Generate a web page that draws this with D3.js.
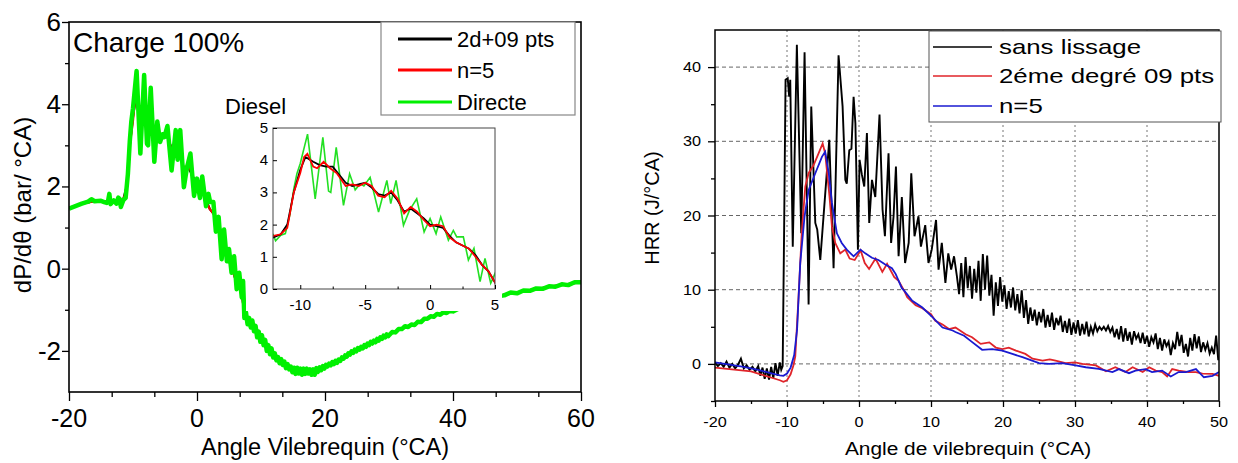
<!DOCTYPE html>
<html><head><meta charset="utf-8">
<script src="https://cdn.jsdelivr.net/npm/d3@7"></script>
<style>
body{margin:0;background:#fff}
svg text{font-family:"Liberation Sans",Arial,sans-serif;fill:#000}
</style>
</head><body>
<svg id="c" width="1238" height="463"></svg>
<script>
// ---------------- LEFT CHART DATA (dP/dθ, bar/°CA) ----------------
const leftDirecte = [[-20,1.46],[-19,1.52],[-18,1.58],[-17,1.63],[-16.5,1.69],[-16,1.64],[-15,1.65],[-14.5,1.62],[-14.1,1.6],[-13.9,1.64],[-13.7,1.82],[-13.5,1.57],[-13,1.66],[-12.6,1.58],[-12.3,1.73],
[-12.1,1.70],[-11.9,1.5],[-11.5,1.67],[-11.15,1.72],[-10.8,2.3],[-10.5,3.1],[-10.26,3.58],[-10.0,3.9],[-9.44,4.81],[-8.85,2.8],[-8.26,4.71],[-7.82,3.04],[-7.65,3.0],[-7.23,4.4],[-6.67,2.6],[-6.2,3.58],[-5.77,3.08],[-5.38,3.27],[-5.1,3.2],[-4.62,3.47],[-3.97,2.39],[-3.33,3.37],[-3.03,2.65],[-2.62,3.37],[-2.05,1.98],[-1.59,2.44],[-1.03,2.8],[-0.46,1.77],[0,2.19],[0.46,1.72],[0.82,2.24],[1.41,1.52],[1.79,1.82],[2.05,1.62],[2.56,1.62],[2.95,0.9],[3.38,1.26],[3.85,0.23],[4.23,0.95],[4.67,0.18],[5.0,0.48],
[5.4,-0.1],[5.8,0.3],[6.2,-0.5],[6.6,-0.1],[7.0,-0.7],[7.2,-0.3],[7.4,-1.2],
[7.65,-1.06],[7.9,-1.35],[8.15,-1.2],[8.4,-1.43],[8.65,-1.26],[8.9,-1.52],[9.15,-1.39],[9.4,-1.67],[9.65,-1.53],[9.9,-1.78],[10.15,-1.62],[10.4,-1.86],[10.65,-1.73],[10.9,-2.0],[11.15,-1.86],[11.4,-2.08],[11.65,-1.94],[11.9,-2.16],[12.15,-2.06],[12.4,-2.23],[12.65,-2.15],[12.9,-2.3],[13.15,-2.2],[13.4,-2.34],[13.65,-2.26],[13.9,-2.42],[14.15,-2.32],[14.4,-2.45],[14.65,-2.38],[14.9,-2.52],[15.15,-2.41],[15.4,-2.56],[15.65,-2.41],[15.9,-2.55],[16.15,-2.43],[16.4,-2.58],[16.65,-2.43],[16.9,-2.56],[17.15,-2.43],[17.4,-2.55],[17.65,-2.45],[17.9,-2.58],[18.15,-2.45],[18.4,-2.58],[18.65,-2.42],[18.9,-2.51],[19.15,-2.4],[19.4,-2.47],[19.65,-2.37],[19.9,-2.43],[20.15,-2.34],[20.4,-2.38],[20.65,-2.31],[20.9,-2.35],[21.15,-2.27],[21.4,-2.32],[21.65,-2.24],[21.9,-2.29],[22.15,-2.21],[22.4,-2.24],[22.65,-2.16],[22.9,-2.19],[23.15,-2.11],[23.4,-2.14],[23.65,-2.06],[23.9,-2.09],[24.15,-2.01],[24.4,-2.05],[24.65,-1.97],[24.9,-2.01],[25.15,-1.93],[25.4,-1.97],[25.65,-1.9],[25.9,-1.94],[26.15,-1.86],[26.4,-1.9],[26.65,-1.82],[26.9,-1.86],[27.15,-1.78],[27.4,-1.82],[27.65,-1.75],[27.9,-1.79],[28.15,-1.71],[28.4,-1.75],[28.65,-1.67],[28.9,-1.71],[29.15,-1.63],[29.4,-1.67],[29.65,-1.6],[29.9,-1.64],
[30.5,-1.54],[31,-1.55],[31.5,-1.47],[32,-1.47],[32.5,-1.4],[33,-1.42],[33.5,-1.36],[34,-1.37],[34.5,-1.29],[35,-1.3],[35.5,-1.22],[36,-1.22],[36.5,-1.16],[37,-1.17],[37.5,-1.1],[38,-1.12],[38.5,-1.06],[39,-1.08],[39.5,-1.02],[40,-1.04],[41,-0.96],[42,-0.96],[43,-0.87],[44,-0.87],[45,-0.78],[46,-0.76],[47,-0.67],[48,-0.65],[49,-0.58],[50,-0.6],[51,-0.53],[52,-0.54],[53,-0.48],[54,-0.49],[55,-0.43],[56,-0.44],[57,-0.38],[58,-0.4],[59,-0.33],[60,-0.33]];

const leftSG = [[-20,1.48],[-18,1.58],[-16,1.64],[-14,1.63],[-13,1.64],[-12.1,1.6],[-11.5,1.7],[-11,2.0],[-10.5,3.0],[-10,3.7],[-9.6,4.1],[-9,3.95],[-8.5,3.85],[-8,3.8],[-7.5,3.8],[-7,3.55],[-6.5,3.3],[-6,3.2],[-5.5,3.25],[-5,3.3],[-4.5,3.15],[-4,2.95],[-3.5,2.9],[-3,3.0],[-2.5,2.75],[-2,2.4],[-1.5,2.5],[-1,2.35],[-0.5,2.2],[0,2.0],[0.5,1.95],[1,1.9],[1.5,1.65],[2,1.45],[2.5,1.35],[3,1.25],[3.5,1.05],[4,0.75],[4.5,0.55],[5,0.2],[6,-0.25],[7,-0.6],[7.4,-1.1],[8,-1.25],[9,-1.45],[10,-1.7],[11,-1.9],[12,-2.1],[13,-2.25],[14,-2.35],[15,-2.45],[16,-2.48],[17,-2.5],[18,-2.5],[19,-2.45],[20,-2.38],[22,-2.25],[24,-2.05],[26,-1.9],[28,-1.75],[30,-1.6],[32,-1.45],[34,-1.35],[36,-1.2],[38,-1.1],[40,-1.02],[44,-0.85],[48,-0.63],[52,-0.52],[56,-0.42],[60,-0.33]];

const leftN5 = [[-20,1.48],[-18,1.58],[-16,1.64],[-14,1.63],[-13,1.64],[-12.1,1.65],[-11.5,1.7],[-11,1.9],[-10.5,3.0],[-10,3.6],[-9.7,4.1],[-9.45,4.2],[-9,3.8],[-8.7,3.75],[-8.2,3.95],[-7.7,3.75],[-7.2,3.6],[-6.5,3.2],[-6,3.25],[-5.5,3.2],[-5,3.3],[-4.5,3.2],[-4,2.9],[-3.5,2.85],[-3,3.05],[-2.5,2.8],[-2,2.35],[-1.5,2.55],[-1,2.4],[-0.5,2.15],[0,1.95],[0.5,2.0],[1,1.95],[1.5,1.6],[2,1.45],[2.5,1.35],[3,1.25],[3.5,1.0],[4,0.75],[4.5,0.55],[5,0.2],[6,-0.25],[7,-0.6],[7.4,-1.1],[8,-1.25],[9,-1.45],[10,-1.7],[11,-1.9],[12,-2.1],[13,-2.25],[14,-2.35],[15,-2.45],[16,-2.48],[17,-2.5],[18,-2.5],[19,-2.45],[20,-2.38],[22,-2.25],[24,-2.05],[26,-1.9],[28,-1.75],[30,-1.6],[32,-1.45],[34,-1.35],[36,-1.2],[38,-1.1],[40,-1.02],[44,-0.85],[48,-0.63],[52,-0.52],[56,-0.42],[60,-0.33]];

const leftXTicks = [-20,0,20,40,60];
const leftXMinor = [-13.33,-6.67,6.67,13.33,26.67,33.33,46.67,53.33];
const leftYTicks = [-2,0,2,4,6];
const leftYMinor = [-1,1,3,5];
const insetXTicks = [-10,-5,0,5];
const insetXMinor = [-7.5,-2.5,2.5];
const insetYTicks = [0,1,2,3,4,5];
const leftLegend = ["2d+09 pts","n=5","Directe"];

// ---------------- RIGHT CHART DATA (HRR, J/°CA) ----------------
const rightRaw = [[-20,0.2],[-19.6,-0.3],[-19.2,0.1],[-18.8,-0.4],[-18.4,0.3],[-18,-0.5],[-17.6,0],[-17.2,-0.6],[-16.8,-0.1],[-16.4,0.7],[-16,-0.6],[-15.6,-0.2],[-15.2,-0.8],[-14.8,-0.4],[-14.4,-1.0],[-14,-0.3],[-13.7,-1.6],[-13.4,-0.5],[-13.1,-2.0],[-12.8,-0.6],[-12.5,-2.1],[-12.2,-0.4],[-11.9,-1.9],[-11.6,0.1],[-11.3,-1.6],[-11,0.2],[-10.8,-0.8],[-10.6,-0.3],[-10.4,18],[-10.2,38.3],[-9.9,38.5],[-9.7,36],[-9.55,38.3],[-9.2,15.8],[-8.63,43],[-8.02,17.6],[-7.56,42],[-7.0,8.0],[-6.63,34.7],[-6.07,19],[-5.8,18.1],[-5.38,14],[-4.13,30.2],[-3.53,12.9],[-2.84,41.6],[-2.28,34.7],[-1.9,24.8],[-1.7,24.3],[-1.35,28.8],[-1.05,29],[-0.75,36],[-0.5,32.4],[-0.15,15.4],[0.08,27.5],[0.4,25.5],[0.73,23.9],[1.1,31.1],[1.42,19],[1.8,24.8],[2.26,22.5],[2.85,33.6],[3.27,20.8],[3.6,17.2],[4.1,28.4],[4.46,16.3],[4.8,19.9],[5.13,26.6],[5.5,14.5],[5.95,22.5],[6.4,13.6],[6.9,16.3],[7.26,25.7],[7.71,17.2],[8.26,19.9],[8.6,15.8],[9.2,18.7],[9.65,13.6],[10.1,15.4],[10.7,19.4],[11.05,12.7],[11.5,16.3],[12.0,10.9],[12.4,14.9],[12.8,12.7],[13.2,14.5],[13.6,11.8],
[13.9,9.4],[14.2,13.6],[14.5,9.0],[14.8,14.4],[15.1,10.2],[15.4,13.2],[15.7,8.8],[16.0,12.8],[16.3,9.6],[16.6,13.9],[16.9,8.5],[17.2,14.8],[17.5,10.0],[17.8,14.6],[18.1,9.2],[18.4,12.0],[18.7,6.5],[19.0,11.0],[19.3,7.8],[19.6,11.7],[19.9,8.4],[20.2,10.6],[20.5,7.4],[20.8,9.8],[21.1,7.6],[21.4,10.3],[21.7,7.2],[22.0,9.4],[22.3,6.8],[22.6,9.9],[22.9,6.2],[23.2,8.6],[23.5,5.4],[23.8,7.6],[24.1,5.8],[24.4,7.3],[24.7,5.2],[25.0,7.0],[25.3,5.6],[25.6,7.4],[25.9,4.9],[26.2,6.6],[26.5,5.0],[26.8,6.9],[27.1,4.6],[27.4,6.2],[27.7,5.2],[28.0,6.5],[28.3,4.3],[28.6,5.8],[28.9,4.2],[29.2,6.1],[29.5,3.9],[29.8,5.6],[30.1,4.1],[30.4,5.9],[30.7,3.8],[31.0,5.4],[31.3,4.0],[31.6,5.7],[31.9,3.7],[32.2,5.0],[32.5,4.1],[32.8,5.3],[33.1,4.4],[33.4,5.0],[33.7,4.6],[34.0,5.0],[34.3,4.5],[34.6,5.1],[34.9,4.3],[35.2,4.9],[35.5,3.6],[35.8,4.7],[36.1,3.3],[36.4,5.1],[36.7,3.0],[37.0,4.8],[37.3,3.1],[37.6,4.3],[37.9,2.6],[38.2,4.4],[38.5,3.4],[38.8,4.0],[39.1,2.8],[39.4,4.2],[39.7,2.7],[40.0,3.8],[40.3,2.3],[40.6,3.6],[40.9,2.9],[41.2,4.1],[41.5,2.0],[41.8,3.5],[42.1,1.8],[42.4,3.3],[42.7,2.4],[43.0,3.0],[43.3,1.2],[43.6,2.8],[43.9,2.0],[44.2,4.3],[44.5,2.4],[44.8,3.9],[45.1,1.5],[45.4,2.7],[45.7,1.0],[46.0,3.5],[46.3,1.8],[46.6,4.0],[46.9,2.1],[47.2,3.7],[47.5,1.6],[47.8,2.9],[48.1,1.9],[48.4,2.8],[48.7,1.4],[49.0,2.2],[49.3,1.3],[49.6,3.8],[49.9,0.5]];

const rightSG = [[-20,-0.5],[-18,-0.7],[-16,-0.9],[-15,-1.0],[-14,-1.3],[-13,-1.6],[-12,-1.9],[-11,-2.2],[-10.5,-2.4],[-10,-2.2],[-9.5,-1.4],[-9.1,-0.2],[-8.85,1.0],[-8.4,9],[-7.93,18],[-7.46,23.9],[-7.0,25.7],[-6.3,26.8],[-5.6,28.4],[-5.05,29.7],[-4.7,28.4],[-4.1,22.6],[-3.76,18.5],[-3.3,16.3],[-2.6,14.9],[-1.9,15.4],[-1.3,14.2],[-0.6,14.0],[0.23,15.3],[0.8,13.6],[1.4,12.8],[2.3,14.2],[3.24,12.4],[3.9,13.5],[4.9,11.7],[5.5,11.2],[6.25,9.9],[6.7,9.0],[7.87,7.9],[8.8,7.5],[10,6.7],[10.6,5.8],[11.6,5.3],[12.5,4.7],[13.4,4.9],[14.8,4.0],[15.7,3.6],[16.9,2.7],[18.1,2.9],[19,2.2],[19.9,2.0],[20.8,2.2],[21.8,1.8],[23.1,1.35],[24.1,0.7],[25.5,0.45],[26.5,0.6],[27.3,0.45],[28.7,0.1],[30,0.2],[31,0],[32,-0.1],[32.9,-0.2],[34.3,-1.0],[35.6,-0.45],[37,-1.1],[38,-0.45],[39.4,-1.1],[40.3,-0.45],[41.2,-0.9],[42.1,-1.1],[42.8,-1.7],[43.5,-0.7],[44.4,-0.9],[45.8,-1.1],[46.8,-1.1],[47.7,-1.3],[49.1,-1.35],[50,-1.6]];

const rightN5 = [[-20,0.2],[-18,-0.1],[-16,-0.4],[-14,-0.8],[-12,-1.3],[-11,-1.55],[-10.5,-1.6],[-10,-1.3],[-9.5,-0.5],[-9,1.2],[-8.6,4.6],[-8.16,13.6],[-7.56,19.9],[-7.0,23.4],[-6.07,25.7],[-5.15,27.9],[-4.7,28.6],[-4.2,25.7],[-3.76,21.7],[-3.07,17.6],[-2.4,16.3],[-1.7,15.4],[-0.75,14.5],[0.2,15.4],[0.87,14.9],[1.8,14.3],[2.7,14.0],[3.65,13.4],[4.57,12.9],[5.1,12.1],[5.95,10.2],[6.25,9.9],[7.4,8.5],[8.8,7.6],[10.2,6.3],[11.6,4.9],[13,4.5],[13.4,4.3],[14.6,3.8],[15.5,3.1],[17.1,1.9],[18.5,2.0],[19.9,1.8],[21.3,1.35],[22.7,0.9],[25,0.1],[26.4,0],[28.2,0.1],[30.1,-0.2],[31.5,-0.45],[33.3,-0.67],[35.2,-1.1],[36.1,-0.7],[37.5,-1.25],[38.4,-0.9],[39.8,-0.7],[40.7,-1.1],[42.1,-0.9],[43.3,-1.7],[44.4,-1.1],[45.4,-1.1],[46.8,-0.7],[47.9,-1.8],[49.1,-1.6],[50,-1.1]];

const rightXTicks = [-20,-10,0,10,20,30,40,50];
const rightXMinor = [-15,-5,5,15,25,35,45];
const rightYTicks = [0,10,20,30,40];
const rightYMinor = [-5,5,15,25,35];
const rightLegend = ["sans lissage","2éme degré 09 pts","n=5"];

// ---------------- DRAW ----------------
const svg = d3.select("#c");
svg.append("rect").attr("width",1238).attr("height",463).attr("fill","#fff");

function ticksOnly(g, axisFn, scale, vals, size){
  const a = axisFn(scale).tickValues(vals).tickSize(size).tickFormat("");
  g.call(a);
  g.select(".domain").remove();
  g.selectAll(".tick line").attr("stroke","#000").attr("stroke-width",1.3);
  return g;
}
function stext(g,x,y,txt,size,anchor,sx,rot){
  return g.append("text")
    .attr("transform",`translate(${x},${y})`+(rot?` rotate(${rot})`:"")+(sx&&sx!==1?` scale(${sx},1)`:""))
    .attr("text-anchor",anchor).attr("font-size",size).text(txt);
}

// ===== Left chart =====
const L = svg.append("g");
const xL = d3.scaleLinear().domain([-20,60]).range([69,581]);
const yL = d3.scaleLinear().domain([-3,6]).range([392,22]);
L.append("defs").append("clipPath").attr("id","clipL").append("rect")
  .attr("x",69).attr("y",22).attr("width",512).attr("height",370);
const lineL = d3.line().x(d=>xL(d[0])).y(d=>yL(d[1]));
const dl = L.append("g").attr("clip-path","url(#clipL)");
dl.append("path").datum(leftSG).attr("d",lineL).attr("fill","none").attr("stroke","#000").attr("stroke-width",2.2);
dl.append("path").datum(leftN5).attr("d",lineL).attr("fill","none").attr("stroke","#ff0000").attr("stroke-width",2.2);
dl.append("path").datum(leftDirecte).attr("d",lineL).attr("fill","none").attr("stroke","#00f000").attr("stroke-width",4.5).attr("stroke-linejoin","round");

// frame + axes
L.append("rect").attr("x",69).attr("y",22).attr("width",512).attr("height",370).attr("fill","none").attr("stroke","#000").attr("stroke-width",1.6);
ticksOnly(L.append("g").attr("transform","translate(0,392)"), d3.axisBottom, xL, leftXTicks, 9);
ticksOnly(L.append("g").attr("transform","translate(0,392)"), d3.axisBottom, xL, leftXMinor, 5);
ticksOnly(L.append("g").attr("transform","translate(69,0)"), d3.axisLeft, yL, leftYTicks, 7);
ticksOnly(L.append("g").attr("transform","translate(69,0)"), d3.axisLeft, yL, leftYMinor, 4);
leftXTicks.forEach(v=>stext(L,xL(v),427,v,25,"middle"));
leftYTicks.forEach(v=>stext(L,61,yL(v)+9,v,26,"end"));
stext(L,325,455,"Angle Vilebrequin (°CA)",23.5,"middle");
stext(L,31,205,"dP/dθ (bar/ °CA)",24,"middle",1,-90);
stext(L,73,52,"Charge 100%",28,"start");

// legend left
L.append("rect").attr("x",381).attr("y",22).attr("width",194).attr("height",93).attr("fill","#fff").attr("stroke","#888").attr("stroke-width",1.2);
const legColL = ["#000","#ff0000","#00f000"];
const legYL = [39,70,102];
leftLegend.forEach((t,i)=>{
  L.append("line").attr("x1",398).attr("x2",452).attr("y1",legYL[i]).attr("y2",legYL[i]).attr("stroke",legColL[i]).attr("stroke-width",3);
  stext(L,457,legYL[i]+8,t,22,"start");
});

// inset
L.append("rect").attr("x",246).attr("y",120).attr("width",256).attr("height",191).attr("fill","#fff");
stext(L,225,114,"Diesel",22,"start");
const xI = d3.scaleLinear().domain([-12.1,5]).range([273,495]);
const yI = d3.scaleLinear().domain([0,5]).range([289,128]);
L.append("defs").append("clipPath").attr("id","clipI").append("rect")
  .attr("x",273).attr("y",128).attr("width",222).attr("height",161);
const lineI = d3.line().x(d=>xI(d[0])).y(d=>yI(d[1]));
const di = L.append("g").attr("clip-path","url(#clipI)");
di.append("path").datum(leftDirecte).attr("d",lineI).attr("fill","none").attr("stroke","#22e022").attr("stroke-width",1.6);
di.append("path").datum(leftSG).attr("d",lineI).attr("fill","none").attr("stroke","#000").attr("stroke-width",1.8);
di.append("path").datum(leftN5).attr("d",lineI).attr("fill","none").attr("stroke","#ff0000").attr("stroke-width",1.8);
L.append("rect").attr("x",273).attr("y",128).attr("width",222).attr("height",161).attr("fill","none").attr("stroke","#444").attr("stroke-width",1);
ticksOnly(L.append("g").attr("transform","translate(0,289)"), d3.axisBottom, xI, insetXTicks, -4).selectAll(".tick line").attr("stroke-width",1);
ticksOnly(L.append("g").attr("transform","translate(0,289)"), d3.axisBottom, xI, insetXMinor, -2.5).selectAll(".tick line").attr("stroke-width",1);
ticksOnly(L.append("g").attr("transform","translate(273,0)"), d3.axisLeft, yI, insetYTicks, -4).selectAll(".tick line").attr("stroke-width",1);
insetXTicks.forEach(v=>stext(L,xI(v),310,v,15,"middle"));
insetYTicks.forEach(v=>stext(L,268,yI(v)+5,v,15,"end"));

// ===== Right chart =====
const R = svg.append("g");
const SX = 1.16;
const xR = d3.scaleLinear().domain([-20,50]).range([715,1219]);
const yR = d3.scaleLinear().domain([-5,45]).range([401,30]);
// grid
rightYTicks.forEach(v=>R.append("line").attr("x1",715).attr("x2",1219).attr("y1",yR(v)).attr("y2",yR(v))
  .attr("stroke","#666").attr("stroke-width",1).attr("stroke-dasharray","4,3"));
rightXTicks.filter(v=>v>-20&&v<50).forEach(v=>R.append("line").attr("x1",xR(v)).attr("x2",xR(v)).attr("y1",30).attr("y2",401)
  .attr("stroke","#777").attr("stroke-width",1).attr("stroke-dasharray","2,3"));
R.append("defs").append("clipPath").attr("id","clipR").append("rect")
  .attr("x",715).attr("y",30).attr("width",504).attr("height",371);
const lineR = d3.line().x(d=>xR(d[0])).y(d=>yR(d[1]));
const dr = R.append("g").attr("clip-path","url(#clipR)");
dr.append("path").datum(rightRaw).attr("d",lineR).attr("fill","none").attr("stroke","#000").attr("stroke-width",1.9);
dr.append("path").datum(rightSG).attr("d",lineR).attr("fill","none").attr("stroke","#e0242a").attr("stroke-width",1.8);
dr.append("path").datum(rightN5).attr("d",lineR).attr("fill","none").attr("stroke","#1a1ad0").attr("stroke-width",1.8);
R.append("rect").attr("x",715).attr("y",30).attr("width",504).attr("height",371).attr("fill","none").attr("stroke","#000").attr("stroke-width",1.5);
ticksOnly(R.append("g").attr("transform","translate(0,401)"), d3.axisBottom, xR, rightXTicks, 6);
ticksOnly(R.append("g").attr("transform","translate(0,401)"), d3.axisBottom, xR, rightXMinor, 3);
ticksOnly(R.append("g").attr("transform","translate(715,0)"), d3.axisLeft, yR, rightYTicks, 7);
ticksOnly(R.append("g").attr("transform","translate(715,0)"), d3.axisLeft, yR, rightYMinor, 4);
rightXTicks.forEach(v=>stext(R,xR(v),427,v,14,"middle",SX));
rightYTicks.forEach(v=>stext(R,701,yR(v)+5,v,14,"end",SX));
stext(R,968,455,"Angle de vilebrequin (°CA)",18,"middle",SX);
stext(R,659,208,"HRR (J/°CA)",20,"middle",1,-90);

// legend right
R.append("rect").attr("x",929).attr("y",31).attr("width",292).attr("height",91).attr("fill","#fff").attr("stroke","#555").attr("stroke-width",1);
const legColR = ["#000","#e0242a","#1a1ad0"];
const legYR = [47,76,106];
rightLegend.forEach((t,i)=>{
  R.append("line").attr("x1",933).attr("x2",992).attr("y1",legYR[i]).attr("y2",legYR[i]).attr("stroke",legColR[i]).attr("stroke-width",1.5);
  stext(R,999,legYR[i]+7,t,21,"start",1.23);
});
</script>
</body></html>
